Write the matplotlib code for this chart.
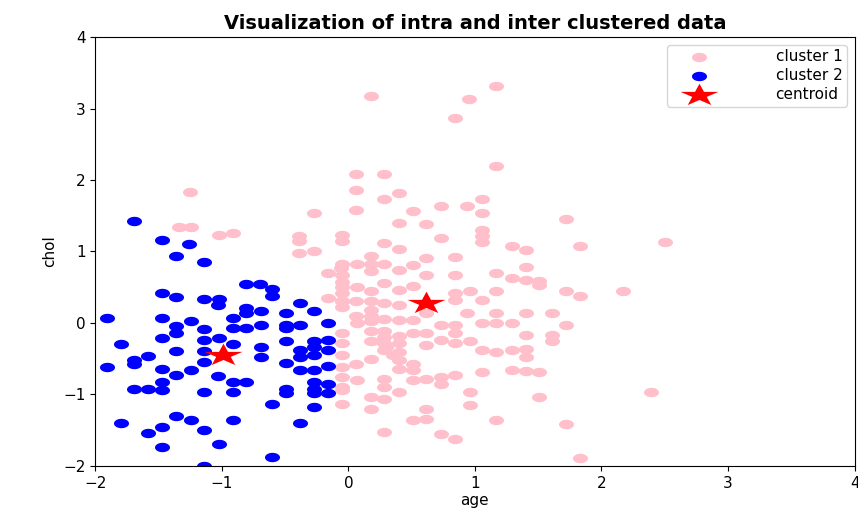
import numpy as np
import matplotlib
matplotlib.use("Agg")
import matplotlib.pyplot as plt
from matplotlib.path import Path

# ---------------- data ----------------
cluster1_x = [1.17, 0.18, 0.95, 0.84, 1.17, -1.25,
              0.06, 0.28, 0.06, 0.40, 0.28, 1.06,
              -0.27, 0.06, 0.51, 0.73, 0.94, 1.06,
              0.40, 0.61, 1.06, 1.06, 1.06, 0.73,
              -0.05, -0.05, 0.28, 0.40, 1.29, 1.40,
              1.72, 1.83, 2.50,
              -1.34, -1.24, -1.02, -0.91,
              -0.39, -0.39, -0.39, -0.27,
              0.18, 0.61, 0.84,
              -0.05, 0.07, 0.18, 0.28, 0.51,
              -0.16, -0.06, -0.05, 0.18, 0.40, 0.61, 0.84, 1.17, 1.40,
              1.29, 1.40, 1.51, 1.51,
              -0.05, -0.05, 0.28, 0.40, 0.51, 0.07, 0.18,
              -0.16, -0.05, 0.84, 0.96, 1.17, 1.72, 1.83, 2.17,
              0.06, 0.28, 0.40, 0.84, 1.06, 0.18, -0.05,
              -0.05, 0.18, 0.18, 0.06, 0.61,
              0.94, 1.17, 1.40, 1.61,
              0.40, 0.51, 0.73, 0.84, 1.06, 1.17, 1.29, 1.72, 0.07, 0.18, 0.28,
              -0.05, 0.18, 0.28, 0.40, 0.51, 0.61, 0.84, 0.73, 0.28,
              1.40, 1.61, 1.61,
              -0.05, 0.18, 0.28, 0.40, 0.61, 0.84, 0.96,
              0.28, 0.40, 0.40, 0.35, 0.30,
              1.06, 1.17, 1.29, 1.40, 1.40,
              0.18, 0.06, -0.05, 0.40, 0.51, 0.51,
              -0.05, 0.07, -0.05, 0.28, 0.28,
              0.51, 0.61, 0.73, 0.84, 0.73,
              1.06, 1.29, 1.40, 1.51,
              0.40, 0.96, 0.96, 0.18, 0.28, -0.05, 0.18, 0.61, 1.51,
              0.51, 0.61, 1.17, 0.28, 0.73, 0.84,
              2.39, 1.72, 1.83,
              -0.05, -0.05, -0.05]
cluster1_y = [3.31, 3.17, 3.13, 2.87, 2.20, 1.83,
              2.08, 2.09, 1.86, 1.82, 1.73, 1.73,
              1.54, 1.58, 1.56, 1.63, 1.63, 1.54,
              1.40, 1.39, 1.30, 1.22, 1.13, 1.19,
              1.23, 1.14, 1.12, 1.03, 1.07, 1.02,
              1.46, 1.07, 1.13,
              1.34, 1.34, 1.23, 1.26,
              1.21, 1.14, 0.98, 1.00,
              0.93, 0.91, 0.92,
              0.83, 0.83, 0.83, 0.83, 0.81,
              0.70, 0.77, 0.67, 0.72, 0.74, 0.67, 0.67, 0.70, 0.78,
              0.63, 0.60, 0.58, 0.53,
              0.57, 0.50, 0.56, 0.46, 0.51, 0.50, 0.45,
              0.35, 0.42, 0.42, 0.44, 0.44, 0.44, 0.37, 0.44,
              0.30, 0.28, 0.25, 0.32, 0.32, 0.30, 0.30,
              0.22, 0.18, 0.09, 0.09, 0.14,
              0.14, 0.14, 0.14, 0.14,
              0.04, 0.04, -0.03, -0.03, 0.00, 0.00, 0.00, -0.03, 0.00, 0.02, 0.05,
              -0.14, -0.12, -0.12, -0.19, -0.14, -0.14, -0.14, -0.24, -0.20,
              -0.17, -0.17, -0.26,
              -0.28, -0.26, -0.28, -0.28, -0.31, -0.28, -0.26,
              -0.38, -0.40, -0.52, -0.45, -0.33,
              -0.38, -0.40, -0.38, -0.36, -0.47,
              -0.51, -0.57, -0.61, -0.64, -0.57, -0.66,
              -0.75, -0.80, -0.89, -0.78, -0.89,
              -0.80, -0.78, -0.75, -0.73, -0.85,
              -0.68, -0.66, -0.67, -0.68,
              -0.96, -0.96, -1.15, -1.03, -1.06, -1.13, -1.20, -1.20, -1.04,
              -1.36, -1.34, -1.36, -1.52, -1.56, -1.62,
              -0.97, -1.42, -1.89,
              -0.94, 0.30, -0.45]

cluster2_x = [-1.69, -1.47, -1.26, -1.36, -1.14,
              -0.81, -0.70, -0.60, -0.60,
              -1.47, -1.36, -1.14, -1.02, -1.03,
              -0.81, -0.81, -0.69, -0.38, -0.49, -0.27,
              -1.91, -1.47, -1.24, -1.36, -1.36, -1.14,
              -0.91, -0.91, -0.81, -0.69, -0.49, -0.49, -0.38, -0.16,
              -1.47, -1.14, -1.02, -0.91, -1.80,
              -1.36, -1.14, -0.69, -0.69, -0.49, -0.38,
              -0.27, -0.27, -0.16, -0.16, -0.38, -0.27,
              -1.58, -1.69, -1.69, -1.14, -1.91, -1.47, -1.24, -1.36, -1.03,
              -0.49, -0.38, -0.27, -0.16,
              -0.91, -0.81, -1.47, -1.47, -1.69, -1.58, -1.14, -0.91,
              -0.49, -0.49, -0.27, -0.27, -0.27, -0.16, -0.16,
              -0.60, -0.27, -0.38, -1.80, -1.36, -1.24, -0.91,
              -1.47, -1.58, -1.14, -1.02, -1.47, -0.60, -1.14]
cluster2_y = [1.43, 1.16, 1.11, 0.94, 0.85,
              0.55, 0.55, 0.47, 0.38,
              0.42, 0.36, 0.33, 0.34, 0.25,
              0.21, 0.14, 0.17, 0.28, 0.14, 0.17,
              0.07, 0.07, 0.02, -0.04, -0.14, -0.09,
              0.07, -0.07, -0.07, -0.03, -0.03, -0.07, -0.03, 0.00,
              -0.21, -0.24, -0.21, -0.29, -0.29,
              -0.39, -0.39, -0.33, -0.47, -0.26, -0.38,
              -0.26, -0.33, -0.24, -0.38, -0.47, -0.45,
              -0.46, -0.52, -0.57, -0.54, -0.61, -0.64, -0.66, -0.73, -0.74,
              -0.56, -0.66, -0.66, -0.60,
              -0.82, -0.82, -0.82, -0.94, -0.93, -0.93, -0.96, -0.96,
              -0.92, -0.98, -0.82, -0.92, -0.98, -0.85, -0.98,
              -1.13, -1.17, -1.40, -1.40, -1.30, -1.36, -1.36,
              -1.45, -1.54, -1.50, -1.70, -1.74, -1.88, -2.00]

centroid_x = [0.61, -0.99]
centroid_y = [0.28, -0.45]

labels = ["cluster 1", "cluster 2", "centroid"]
x_ticks = [-2, -1, 0, 1, 2, 3, 4]
y_ticks = [-2, -1, 0, 1, 2, 3, 4]

# ---------------- stretched markers (reference is horizontally stretched) ----------------
STRETCH = 1.6
theta = np.linspace(0, 2 * np.pi, 65)
ellipse = Path(np.column_stack([STRETCH * np.cos(theta), np.sin(theta)]), closed=True)
star_base = Path.unit_regular_star(5, 0.381966)
star_verts = star_base.vertices.copy()
star_verts[:, 0] *= 1.7
star = Path(star_verts, star_base.codes)

# ---------------- figure ----------------
fig = plt.figure(figsize=(8.58, 5.08), dpi=100)
ax = fig.add_axes([0.111, 0.083, 0.885, 0.844])

ax.scatter(cluster1_x, cluster1_y, s=117, c="pink", marker=ellipse, linewidths=0, label=labels[0])
ax.scatter(cluster2_x, cluster2_y, s=117, c="blue", marker=ellipse, linewidths=0, label=labels[1])
ax.scatter(centroid_x, centroid_y, s=750, c="red", marker=star, linewidths=0, label=labels[2])

ax.set_xlim(-2, 4)
ax.set_ylim(-2, 4)
ax.set_xticks(x_ticks)
ax.set_yticks(y_ticks)
ax.tick_params(labelsize=11)
ax.set_xlabel("age", fontsize=11, labelpad=2)
ax.set_ylabel("chol", fontsize=11)
ax.set_title("Visualization of intra and inter clustered data", fontsize=14, fontweight="bold", pad=6)
ax.legend(loc="upper right", fontsize=11, labelspacing=0.25, handlelength=3.6,
          handletextpad=3.2, borderpad=0.3)

fig.savefig("out.png", dpi=100)
